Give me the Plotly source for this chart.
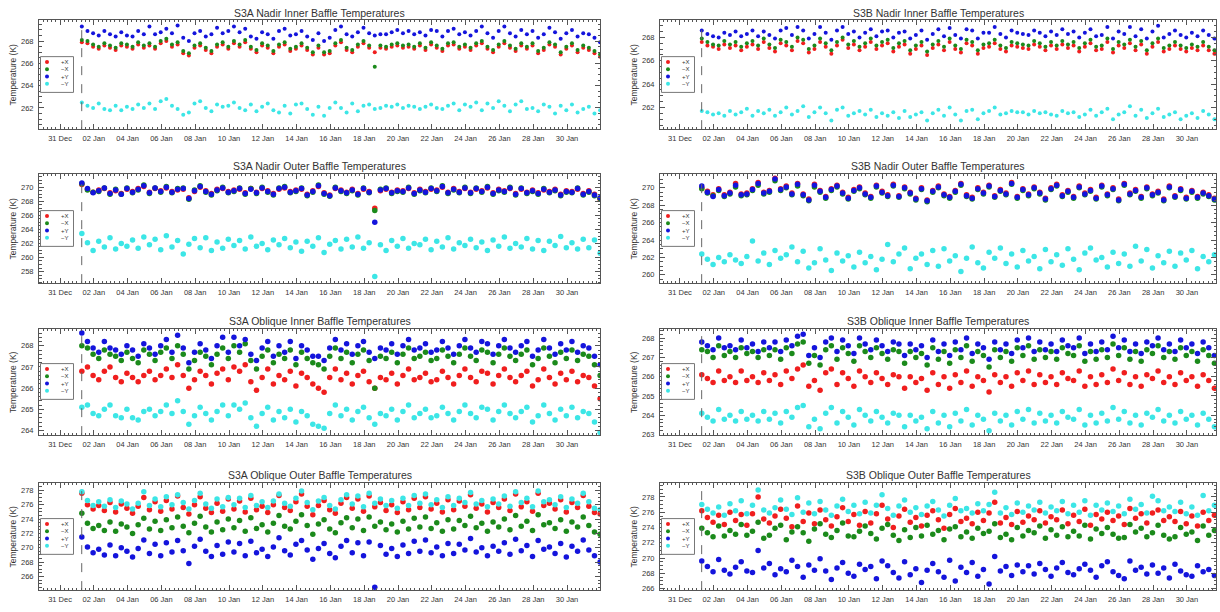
import pandas as pd
import plotly.graph_objects as go

# Sampling of the baffle thermistor series: one reading every 8 hours
T0 = pd.Timestamp("2019-01-01 07:00")
STEP = pd.Timedelta(hours=8)
SWITCH_ON = "2019-01-01 06:50"

# ---------------- S3A Nadir Inner Baffle ----------------
a1_px = [267.9, 267.8, 267.5, 267.3, 267.6, 267.4, 267.2, 267.6, 267.5, 267.3, 267.7, 267.4,
         267.6, 267.3, 267.8, 268.0, 267.5, 267.7, 266.9, 266.7, 267.4, 267.6, 267.2, 266.9,
         267.5, 267.7, 267.3, 267.8, 267.5, 267.9, 267.3, 267.0, 267.6, 267.4, 266.9, 267.5,
         267.7, 267.1, 267.3, 267.6, 267.2, 266.8, 267.4, 266.8, 266.9, 267.6, 267.9, 267.2,
         267.0, 267.5, 267.8, 267.4, 267.0, 267.4, 267.3, 267.5, 267.6, 267.4, 267.5, 267.3,
         267.6, 267.2, 267.7, 267.4, 267.1, 267.6, 267.7, 267.3, 267.5, 267.2, 267.6, 267.8,
         267.3, 267.0, 267.5, 267.8, 267.4, 267.1, 267.6, 267.3, 267.6, 266.9, 267.2, 267.7,
         267.5, 266.8, 267.3, 267.6, 267.0, 267.4, 267.2, 266.9, 266.6]
a1_mx = [268.1, 268.0, 267.7, 267.5, 267.8, 267.6, 267.4, 267.8, 267.7, 267.5, 267.9, 267.6,
         267.8, 267.5, 268.0, 268.2, 267.7, 267.9, 267.1, 266.9, 267.6, 267.8, 267.4, 267.1,
         267.7, 267.9, 267.5, 268.0, 267.7, 268.1, 267.5, 267.2, 267.8, 267.6, 267.1, 267.7,
         267.9, 267.3, 267.5, 267.8, 267.4, 267.0, 267.6, 267.0, 267.1, 267.8, 268.1, 267.4,
         267.2, 267.7, 268.0, 267.6, 265.7, 267.6, 267.5, 267.7, 267.8, 267.6, 267.7, 267.5,
         267.8, 267.4, 267.9, 267.6, 267.3, 267.8, 267.9, 267.5, 267.7, 267.4, 267.8, 268.0,
         267.5, 267.2, 267.7, 268.0, 267.6, 267.3, 267.8, 267.5, 267.8, 267.1, 267.4, 267.9,
         267.7, 267.0, 267.5, 267.8, 267.2, 267.6, 267.4, 267.1, 266.8]
a1_py = [269.3, 268.9, 268.7, 268.5, 268.9, 268.6, 268.4, 268.8, 268.5, 268.4, 268.9, 268.6,
         269.3, 268.6, 268.8, 269.1, 268.7, 269.4, 268.3, 268.0, 268.7, 268.9, 268.4, 268.6,
         269.2, 268.7, 268.9, 269.3, 268.8, 269.1, 268.4, 268.2, 268.8, 268.6, 268.2, 268.9,
         269.1, 268.5, 268.6, 268.9, 268.4, 268.1, 268.7, 268.0, 268.3, 269.0, 269.3, 268.6,
         268.4, 268.8, 269.2, 268.7, 268.5, 268.6, 268.6, 268.8, 269.0, 268.7, 268.9, 268.6,
         268.8, 268.5, 269.0, 268.9, 268.4, 268.9, 269.1, 268.6, 268.8, 268.5, 268.9, 269.3,
         268.7, 268.3, 268.9, 269.3, 268.7, 268.4, 269.0, 268.6, 268.9, 268.3, 268.6, 269.2,
         268.8, 268.2, 268.7, 269.0, 268.4, 268.7, 268.6, 268.3, 267.9]
a1_my = [262.5, 262.2, 262.0, 262.4, 261.9, 261.8, 262.2, 261.8, 262.1, 261.9, 262.3, 262.0,
         262.4, 261.9, 262.6, 262.8, 262.2, 261.9, 261.4, 261.6, 262.4, 262.6, 262.0, 261.7,
         262.3, 262.1, 262.2, 262.5, 262.0, 261.8, 262.3, 261.7, 262.1, 262.4, 261.8, 261.6,
         262.2, 261.5, 262.3, 262.4, 261.9, 261.4, 262.1, 261.3, 262.0, 262.5, 262.0, 261.6,
         262.4, 261.7, 262.2, 262.3, 261.9, 262.0, 262.2, 262.1, 262.3, 262.0, 262.2, 262.1,
         261.9, 262.1, 262.3, 262.0, 261.9, 262.2, 262.4, 261.8, 262.3, 262.1, 262.5, 261.8,
         262.4, 262.0, 262.6, 262.2, 261.7, 262.3, 262.6, 261.9, 262.0, 261.7, 262.3, 262.1,
         261.5, 262.2, 261.8, 262.3, 261.6, 261.9, 262.1, 261.5, 261.8]

# ---------------- S3B Nadir Inner Baffle ----------------
b1_px = [267.6, 267.3, 267.2, 267.0, 267.4, 267.1, 267.3, 266.9, 267.2, 267.4, 267.0, 267.6,
         267.1, 266.8, 267.5, 267.3, 266.9, 267.7, 267.5, 266.7, 267.0, 267.6, 267.2, 266.6,
         267.3, 267.8, 267.1, 267.4, 266.9, 267.2, 267.6, 267.0, 267.3, 267.5, 266.8, 267.2,
         267.4, 266.6, 267.0, 267.3, 266.5, 267.1, 267.4, 266.9, 267.6, 267.0, 266.7, 267.5,
         267.3, 266.6, 267.1, 267.2, 267.5, 267.0, 266.8, 267.3, 267.2, 267.1, 267.0, 267.4,
         267.2, 266.9, 267.3, 267.0, 267.4, 267.1, 267.3, 266.8, 267.2, 267.5, 266.9, 267.0,
         267.6, 266.7, 267.3, 267.1, 267.5, 266.9, 267.4, 266.6, 267.2, 267.6, 266.8, 267.0,
         267.3, 267.0, 266.8, 267.1, 266.9, 267.3, 266.9, 266.6, 266.4]
b1_mx = [267.9, 267.6, 267.4, 267.3, 267.7, 267.4, 267.6, 267.2, 267.5, 267.7, 267.3, 267.9,
         267.4, 267.1, 267.8, 267.6, 267.2, 268.0, 267.8, 267.0, 267.3, 267.9, 267.5, 266.9,
         267.6, 268.0, 267.4, 267.7, 267.2, 267.5, 267.9, 267.3, 267.6, 267.8, 267.1, 267.5,
         267.7, 266.9, 267.3, 267.6, 266.8, 267.4, 267.7, 267.2, 267.9, 267.3, 267.0, 267.8,
         267.6, 266.9, 267.4, 267.5, 267.8, 267.3, 267.1, 267.6, 267.5, 267.4, 267.3, 267.7,
         267.5, 267.2, 267.6, 267.3, 267.7, 267.4, 267.6, 267.1, 267.5, 267.8, 267.2, 267.3,
         267.9, 267.0, 267.6, 267.4, 267.8, 267.2, 267.7, 266.9, 267.5, 267.9, 267.1, 267.3,
         267.6, 267.3, 267.1, 267.4, 267.2, 267.6, 267.2, 266.9, 266.7]
b1_py = [268.6, 268.3, 268.1, 268.0, 268.4, 268.2, 268.5, 268.1, 268.3, 268.6, 268.1, 268.5,
         268.2, 267.9, 268.6, 268.8, 268.2, 268.9, 268.6, 267.9, 268.3, 268.9, 268.4, 267.8,
         268.6, 268.9, 268.3, 268.5, 268.0, 268.4, 268.7, 268.1, 268.5, 268.6, 268.0, 268.4,
         268.5, 267.9, 268.2, 268.6, 267.8, 268.3, 268.7, 268.1, 268.8, 268.2, 267.9, 268.7,
         268.6, 267.9, 268.4, 268.4, 268.9, 268.3, 268.0, 268.6, 268.4, 268.3, 268.2, 268.6,
         268.4, 268.1, 268.5, 268.2, 268.7, 268.3, 268.5, 268.0, 268.4, 268.7, 268.1, 268.2,
         268.9, 267.9, 268.5, 268.3, 268.9, 268.1, 268.7, 267.9, 268.5, 269.0, 268.0, 268.3,
         268.6, 268.2, 268.0, 268.4, 268.1, 268.6, 268.2, 267.9, 267.6]
b1_my = [261.7, 261.6, 261.4, 261.5, 261.3, 261.7, 261.4, 261.6, 261.9, 261.3, 261.7, 261.5,
         261.8, 261.3, 261.6, 262.0, 261.4, 261.7, 262.1, 261.2, 261.6, 262.0, 261.5, 260.9,
         261.8, 262.0, 261.3, 261.5, 261.7, 261.4, 261.8, 261.2, 261.5, 261.3, 261.6, 261.1,
         261.7, 261.2, 261.4, 261.6, 260.9, 261.5, 261.8, 261.3, 262.0, 261.4, 260.9, 261.7,
         261.8, 261.0, 261.5, 261.7, 262.0, 261.4, 261.5, 261.7, 261.6, 261.6, 261.4, 261.7,
         261.5, 261.6, 261.4, 261.3, 261.7, 261.5, 261.6, 261.2, 261.4, 261.8, 261.3, 261.6,
         261.9, 261.0, 261.4, 261.6, 262.1, 261.3, 261.8, 261.1, 261.5, 261.9, 261.2, 261.4,
         261.6, 261.0, 261.3, 261.5, 261.1, 261.7, 261.4, 261.0, 260.9]

# ---------------- S3A Nadir Outer Baffle ----------------
a2_px = [270.4, 269.7, 269.3, 269.6, 269.8, 269.2, 269.5, 269.1, 269.7, 269.4, 269.8, 270.1,
         269.3, 269.8, 269.5, 269.9, 269.4, 269.6, 269.7, 268.5, 269.4, 270.0, 269.5, 269.1,
         269.7, 269.8, 269.4, 269.6, 269.7, 269.2, 269.8, 269.3, 269.8, 269.5, 269.1, 269.7,
         269.9, 269.4, 269.6, 269.7, 269.0, 269.5, 270.1, 269.2, 268.9, 269.8, 269.6, 269.3,
         269.7, 269.1, 269.7, 269.4, 267.0, 269.5, 269.7, 269.3, 269.6, 269.5, 269.8, 269.2,
         269.7, 269.4, 269.7, 269.6, 270.0, 269.3, 269.8, 269.4, 269.8, 269.3, 269.7, 269.5,
         269.9, 269.2, 269.7, 269.5, 269.8, 269.1, 269.7, 269.3, 269.6, 269.2, 269.6, 269.4,
         269.7, 269.0, 269.5, 269.4, 269.7, 269.1, 269.5, 269.0, 268.3]
a2_mx = [270.5, 269.6, 269.3, 269.4, 269.9, 269.0, 269.7, 269.0, 269.9, 269.2, 269.6, 270.3,
         269.1, 269.9, 269.3, 270.1, 269.2, 269.8, 269.9, 268.3, 269.6, 270.2, 269.3, 268.9,
         269.5, 270.0, 269.2, 269.4, 269.9, 269.0, 269.8, 269.1, 270.0, 269.3, 268.9, 269.9,
         270.1, 269.2, 269.4, 269.9, 268.8, 269.3, 270.3, 269.0, 268.7, 270.0, 269.4, 269.1,
         269.5, 268.9, 269.9, 269.2, 266.7, 269.7, 269.9, 269.1, 269.4, 269.3, 270.0, 269.0,
         269.5, 269.2, 269.9, 269.4, 270.2, 269.1, 269.6, 269.2, 270.0, 269.1, 269.9, 269.3,
         270.1, 269.0, 269.5, 269.3, 270.0, 268.9, 269.9, 269.1, 269.4, 269.0, 269.8, 269.2,
         269.5, 268.8, 269.3, 269.2, 269.9, 268.9, 269.3, 268.8, 268.4]
a2_py = [270.6, 269.8, 269.2, 269.5, 269.9, 269.1, 269.6, 269.0, 269.8, 269.3, 269.7, 270.2,
         269.2, 269.9, 269.4, 270.0, 269.3, 269.7, 269.8, 268.4, 269.5, 270.1, 269.4, 269.0,
         269.6, 269.9, 269.3, 269.5, 269.8, 269.1, 269.7, 269.2, 269.9, 269.4, 269.0, 269.8,
         270.0, 269.3, 269.5, 269.8, 268.9, 269.4, 270.2, 269.1, 268.8, 269.9, 269.5, 269.2,
         269.6, 269.0, 269.8, 269.3, 265.0, 269.6, 269.8, 269.2, 269.5, 269.4, 269.9, 269.1,
         269.6, 269.3, 269.8, 269.5, 270.1, 269.2, 269.7, 269.3, 269.9, 269.2, 269.8, 269.4,
         270.0, 269.1, 269.6, 269.4, 269.9, 269.0, 269.8, 269.2, 269.5, 269.1, 269.7, 269.3,
         269.6, 268.9, 269.4, 269.3, 269.8, 269.0, 269.4, 268.9, 268.5]
a2_my = [263.4, 262.1, 261.0, 262.3, 261.5, 262.8, 261.2, 262.0, 261.6, 262.5, 261.3, 262.9,
         261.8, 262.6, 261.1, 263.1, 261.5, 262.4, 260.5, 261.9, 262.7, 261.4, 262.8, 261.0,
         262.2, 261.3, 262.6, 261.7, 262.4, 261.2, 262.9, 261.6, 262.0, 261.1, 262.5, 261.8,
         262.7, 261.4, 262.2, 260.9, 262.3, 261.6, 262.8, 260.7, 261.9, 262.4, 261.2, 262.6,
         261.5, 262.9, 261.3, 262.1, 257.3, 261.8, 261.0, 262.4, 261.6, 262.7, 261.3, 262.0,
         261.8, 262.6, 261.1, 262.3, 261.5, 262.8, 261.2, 262.1, 261.7, 262.6, 261.4, 262.2,
         261.0, 262.5, 261.6, 262.9, 261.3, 262.0, 261.5, 262.7, 261.2, 262.4, 261.0, 262.3,
         261.7, 263.0, 261.4, 262.1, 261.2, 262.6, 261.4, 262.5, 260.6]

# ---------------- S3B Nadir Outer Baffle ----------------
b2_px = [270.0, 269.6, 269.2, 269.9, 269.2, 269.5, 270.5, 269.3, 269.4, 269.9, 270.6, 269.5,
         269.7, 271.1, 269.9, 270.2, 269.4, 270.5, 269.3, 268.7, 270.4, 269.7, 269.0, 269.9,
         270.3, 269.5, 268.9, 269.8, 270.1, 269.4, 269.0, 270.3, 269.6, 269.2, 270.4, 269.1,
         270.1, 269.5, 268.8, 270.0, 268.6, 269.7, 270.2, 269.3, 269.0, 269.7, 270.5, 269.2,
         268.9, 270.0, 269.5, 270.3, 269.1, 269.8, 269.4, 270.6, 269.0, 269.9, 269.3, 270.1,
         269.5, 268.8, 270.0, 270.4, 269.2, 269.7, 269.0, 270.2, 269.4, 269.8, 268.9, 270.3,
         269.3, 270.0, 268.7, 270.5, 269.4, 269.8, 269.0, 270.1, 269.3, 269.6, 268.7, 270.2,
         269.1, 269.9, 268.9, 269.7, 269.0, 269.5, 269.2, 268.8, 268.2]
b2_mx = [269.9, 269.4, 269.1, 269.7, 269.0, 269.3, 270.1, 269.1, 269.2, 269.7, 270.3, 269.3,
         269.5, 270.8, 269.7, 270.0, 269.2, 270.2, 269.1, 268.5, 270.1, 269.5, 268.8, 269.7,
         270.1, 269.3, 268.7, 269.6, 269.9, 269.2, 268.8, 270.1, 269.4, 269.0, 270.2, 268.9,
         269.9, 269.3, 268.6, 269.8, 268.4, 269.5, 270.0, 269.1, 268.8, 269.5, 270.3, 269.0,
         268.7, 269.8, 269.3, 270.1, 268.9, 269.6, 269.2, 270.4, 268.8, 269.7, 269.1, 269.9,
         269.3, 268.6, 269.8, 270.2, 269.0, 269.5, 268.8, 270.0, 269.2, 269.6, 268.7, 270.1,
         269.1, 269.8, 268.5, 270.3, 269.2, 269.6, 268.8, 269.9, 269.1, 269.4, 268.5, 270.0,
         268.9, 269.7, 268.7, 269.5, 268.8, 269.3, 269.0, 268.6, 268.0]
b2_py = [270.2, 269.5, 269.0, 269.8, 269.1, 269.4, 270.3, 269.2, 269.3, 269.8, 270.5, 269.4,
         269.6, 271.0, 269.8, 270.1, 269.3, 270.4, 269.2, 268.6, 270.3, 269.6, 268.9, 269.8,
         270.2, 269.4, 268.8, 269.7, 270.0, 269.3, 268.9, 270.2, 269.5, 269.1, 270.3, 269.0,
         270.0, 269.4, 268.7, 269.9, 268.5, 269.6, 270.1, 269.2, 268.9, 269.6, 270.4, 269.1,
         268.8, 269.9, 269.4, 270.2, 269.0, 269.7, 269.3, 270.5, 268.9, 269.8, 269.2, 270.0,
         269.4, 268.7, 269.9, 270.3, 269.1, 269.6, 268.9, 270.1, 269.3, 269.7, 268.8, 270.2,
         269.2, 269.9, 268.6, 270.4, 269.3, 269.7, 268.9, 270.0, 269.2, 269.5, 268.6, 270.1,
         269.0, 269.8, 268.8, 269.6, 268.9, 269.4, 269.1, 268.7, 268.1]
b2_my = [262.4, 261.8, 261.2, 262.0, 261.5, 262.3, 261.7, 261.3, 262.1, 263.9, 261.6, 262.5,
         261.2, 262.8, 261.9, 262.3, 263.2, 261.5, 262.7, 260.8, 261.4, 263.0, 261.7, 260.5,
         262.5, 261.6, 262.2, 260.9, 262.6, 261.4, 262.1, 260.6, 261.8, 263.5, 261.5, 262.4,
         263.1, 260.7, 261.9, 262.4, 261.2, 262.8, 261.0, 263.0, 261.6, 262.2, 260.4, 261.9,
         263.2, 261.4, 260.8, 262.6, 261.9, 263.1, 261.3, 262.4, 260.9, 262.8, 261.6, 262.1,
         260.7, 262.9, 261.5, 262.3, 261.1, 263.0, 261.8, 260.6, 262.5, 263.1, 261.7, 262.0,
         260.9, 262.6, 261.3, 262.4, 261.0, 263.3, 261.6, 262.9, 260.8, 262.2, 261.4, 262.7,
         261.0, 262.5, 261.7, 262.8, 260.7, 262.1, 261.5, 262.3, 260.2]

# ---------------- S3A Oblique Inner Baffle ----------------
a3_px = [266.8, 267.0, 266.6, 266.4, 266.8, 267.0, 266.5, 266.3, 266.7, 266.5, 266.3, 266.6,
         266.8, 266.4, 266.6, 266.9, 266.5, 267.1, 266.6, 266.0, 266.4, 266.8, 266.6, 266.2,
         266.7, 266.9, 266.4, 267.0, 266.8, 267.1, 266.3, 265.9, 266.5, 266.9, 266.2, 266.6,
         266.4, 266.8, 266.1, 266.7, 266.5, 266.2, 266.0, 265.8, 266.5, 266.9, 266.4, 266.7,
         266.2, 266.6, 266.8, 266.3, 266.0, 266.5, 266.4, 266.7, 266.2, 266.6, 266.9, 266.4,
         266.5, 266.7, 266.3, 266.4, 266.8, 266.5, 266.2, 266.6, 266.9, 266.5, 266.3, 266.8,
         266.7, 266.2, 266.6, 266.9, 266.5, 266.3, 266.6, 266.8, 266.1, 266.4, 266.9, 266.5,
         266.2, 266.7, 266.4, 266.8, 266.3, 266.6, 266.5, 266.1, 265.5]
a3_mx = [268.0, 267.9, 267.6, 267.4, 267.8, 267.6, 267.5, 267.3, 267.7, 267.4, 267.2, 267.8,
         267.6, 267.3, 267.7, 267.9, 267.4, 268.0, 267.6, 266.9, 267.3, 267.7, 267.5, 267.1,
         267.6, 267.9, 267.4, 268.0, 267.7, 268.1, 267.3, 266.9, 267.5, 267.8, 267.2, 267.6,
         267.4, 267.8, 267.1, 267.7, 267.4, 267.2, 267.1, 266.9, 267.5, 267.9, 267.4, 267.7,
         267.2, 267.6, 267.8, 267.3, 266.0, 267.5, 267.4, 267.7, 267.2, 267.6, 267.9, 267.4,
         267.5, 267.7, 267.3, 267.4, 267.8, 267.5, 267.2, 267.6, 267.9, 267.5, 267.3, 267.8,
         267.7, 267.2, 267.6, 267.9, 267.5, 267.3, 267.6, 267.8, 267.1, 267.4, 267.9, 267.5,
         267.2, 267.7, 267.4, 267.8, 267.3, 267.6, 267.5, 267.1, 266.6]
a3_py = [268.6, 268.2, 267.9, 267.7, 268.2, 267.9, 267.8, 267.6, 268.0, 267.8, 267.5, 268.1,
         267.9, 267.6, 268.0, 268.3, 267.7, 268.5, 267.9, 267.2, 267.7, 268.1, 267.8, 267.4,
         268.0, 268.4, 267.7, 268.4, 268.0, 268.3, 267.6, 267.3, 267.9, 268.2, 267.5, 268.0,
         267.7, 268.2, 267.4, 268.0, 267.8, 267.5, 267.5, 267.3, 267.9, 268.3, 267.8, 268.1,
         267.6, 268.0, 268.2, 267.7, 267.4, 267.9, 267.8, 268.1, 267.6, 268.0, 268.3, 267.8,
         267.9, 268.1, 267.7, 267.8, 268.2, 267.9, 267.6, 268.0, 268.3, 267.9, 267.7, 268.2,
         268.1, 267.6, 268.0, 268.3, 267.9, 267.7, 268.0, 268.2, 267.5, 267.8, 268.3, 267.9,
         267.6, 268.1, 267.8, 268.2, 267.7, 268.0, 267.9, 267.5, 267.1]
a3_my = [265.1, 265.2, 264.8, 264.7, 265.0, 265.2, 264.7, 264.6, 265.0, 264.6, 264.5, 264.9,
         265.0, 264.7, 264.9, 265.2, 264.8, 265.4, 264.9, 264.3, 264.7, 265.1, 264.8, 264.5,
         264.9, 265.2, 264.7, 265.2, 265.0, 265.3, 264.6, 264.2, 264.8, 265.1, 264.5, 264.9,
         264.6, 265.0, 264.4, 264.9, 264.7, 264.3, 264.2, 264.1, 264.8, 265.2, 264.7, 265.0,
         264.5, 264.9, 265.1, 264.6, 264.3, 264.8, 264.7, 265.0, 264.5, 264.9, 265.2, 264.6,
         264.8, 265.0, 264.6, 264.7, 265.1, 264.8, 264.5, 264.9, 265.2, 264.8, 264.6, 265.1,
         265.0, 264.5, 264.9, 265.2, 264.8, 264.6, 264.9, 265.1, 264.4, 264.7, 265.2, 264.8,
         264.5, 265.0, 264.7, 265.1, 264.6, 264.9, 264.8, 264.4, 263.9]

# ---------------- S3B Oblique Inner Baffle ----------------
b3_px = [266.1, 265.9, 265.7, 266.3, 265.8, 266.0, 265.7, 266.3, 265.8, 266.0, 265.7, 266.2,
         265.8, 266.1, 265.6, 266.3, 265.9, 266.4, 266.6, 265.5, 265.8, 265.3, 266.2, 266.4,
         265.6, 266.2, 265.9, 265.5, 266.3, 266.0, 265.7, 266.2, 265.9, 265.6, 266.1, 266.0,
         265.4, 266.0, 265.7, 265.9, 265.3, 266.2, 265.6, 266.0, 265.4, 266.1, 265.7, 266.3,
         265.5, 266.0, 265.8, 265.2, 266.1, 265.7, 266.0, 265.5, 266.2, 265.8, 266.3, 265.6,
         266.1, 265.7, 266.0, 265.6, 266.2, 265.9, 265.8, 266.3, 265.5, 266.0, 265.6, 266.1,
         265.7, 266.4, 265.8, 266.2, 265.6, 266.0, 265.5, 266.1, 265.9, 266.3, 265.7, 266.0,
         265.6, 266.2, 265.8, 266.0, 265.5, 266.1, 265.8, 265.4, 265.3]
b3_mx = [267.4, 267.3, 267.0, 267.6, 267.1, 267.3, 267.0, 267.5, 267.2, 267.3, 267.0, 267.4,
         267.1, 267.4, 266.9, 267.5, 267.2, 267.7, 267.8, 266.7, 267.1, 266.6, 267.4, 267.6,
         266.9, 267.5, 267.2, 266.8, 267.6, 267.3, 267.0, 267.5, 267.2, 266.9, 267.4, 267.3,
         266.7, 267.3, 267.0, 267.2, 266.6, 267.5, 266.9, 267.3, 266.7, 267.4, 267.0, 267.6,
         266.8, 267.3, 267.1, 266.5, 267.4, 267.0, 267.3, 266.8, 267.5, 267.1, 267.6, 266.9,
         267.4, 267.0, 267.3, 266.9, 267.5, 267.2, 267.1, 267.6, 266.8, 267.3, 266.9, 267.4,
         267.0, 267.7, 267.1, 267.5, 266.9, 267.3, 266.8, 267.4, 267.2, 267.6, 267.0, 267.3,
         266.9, 267.5, 267.1, 267.3, 266.8, 267.4, 267.1, 266.7, 266.5]
b3_py = [267.8, 267.6, 267.4, 268.0, 267.5, 267.6, 267.4, 267.9, 267.5, 267.7, 267.3, 267.8,
         267.5, 267.8, 267.3, 267.9, 267.6, 268.1, 268.2, 267.1, 267.5, 267.0, 267.8, 268.0,
         267.3, 267.9, 267.6, 267.2, 268.0, 267.7, 267.4, 267.9, 267.6, 267.3, 267.8, 267.7,
         267.1, 267.7, 267.4, 267.6, 267.0, 267.9, 267.3, 267.7, 267.1, 267.8, 267.4, 268.0,
         267.2, 267.7, 267.5, 266.9, 267.8, 267.4, 267.7, 267.2, 267.9, 267.5, 268.0, 267.3,
         267.8, 267.4, 267.7, 267.3, 267.9, 267.6, 267.5, 268.0, 267.2, 267.7, 267.3, 267.8,
         267.4, 268.1, 267.5, 267.9, 267.3, 267.7, 267.2, 267.8, 267.6, 268.0, 267.4, 267.7,
         267.3, 267.9, 267.5, 267.7, 267.2, 267.8, 267.5, 267.1, 266.9]
b3_my = [264.1, 263.9, 263.7, 264.3, 263.8, 264.0, 263.7, 264.2, 263.8, 264.0, 263.7, 264.2,
         263.8, 264.1, 263.6, 264.2, 263.9, 264.4, 264.5, 263.4, 263.8, 263.3, 264.1, 264.4,
         263.6, 264.2, 263.9, 263.5, 264.3, 264.0, 263.7, 264.2, 263.9, 263.6, 264.1, 264.0,
         263.4, 264.0, 263.7, 263.9, 263.3, 264.2, 263.6, 264.0, 263.4, 264.1, 263.7, 264.3,
         263.5, 264.0, 263.8, 263.2, 264.1, 263.7, 264.0, 263.5, 264.2, 263.8, 264.3, 263.6,
         264.1, 263.7, 264.0, 263.6, 264.2, 263.9, 263.8, 264.3, 263.5, 264.0, 263.6, 264.1,
         263.7, 264.4, 263.8, 264.2, 263.6, 264.0, 263.5, 264.1, 263.9, 264.3, 263.7, 264.0,
         263.6, 264.2, 263.8, 264.0, 263.5, 264.1, 263.8, 263.4, 263.3]

# ---------------- S3A Oblique Outer Baffle ----------------
a4_px = [277.6, 276.0, 275.4, 275.9, 275.2, 276.3, 275.0, 276.1, 275.5, 274.8, 275.8, 277.0,
         275.3, 276.4, 275.1, 276.6, 275.4, 277.2, 275.6, 274.7, 276.0, 277.1, 275.5, 274.9,
         276.2, 275.1, 276.8, 275.4, 276.5, 275.0, 276.9, 275.3, 275.8, 274.9, 276.0, 277.3,
         275.6, 275.2, 276.4, 277.5, 275.8, 274.6, 275.9, 276.6, 275.3, 274.8, 276.2, 277.0,
         275.5, 276.8, 275.1, 277.2, 275.7, 276.3, 275.2, 276.0, 274.9, 276.4, 275.3, 276.9,
         275.6, 277.1, 275.4, 276.2, 275.0, 276.7, 275.3, 276.5, 275.8, 277.4, 275.5, 276.1,
         275.0, 276.3, 275.6, 276.8, 275.2, 277.5, 275.7, 276.4, 275.1, 277.6, 275.9, 276.2,
         275.4, 276.7, 275.0, 276.3, 275.6, 277.3, 275.8, 274.9, 274.7]
a4_mx = [274.8, 273.4, 272.7, 273.1, 272.4, 273.6, 272.3, 273.3, 272.9, 272.0, 273.2, 274.1,
         272.6, 273.7, 272.4, 273.9, 272.8, 274.3, 273.0, 272.1, 273.4, 274.4, 272.9, 272.2,
         273.6, 272.5, 274.0, 272.8, 273.8, 272.3, 274.2, 272.7, 273.2, 272.2, 273.4, 274.5,
         273.0, 272.6, 273.7, 274.6, 273.1, 271.9, 273.3, 273.9, 272.6, 272.1, 273.5, 274.2,
         272.8, 274.0, 272.4, 274.3, 273.0, 273.6, 272.5, 273.3, 272.2, 273.7, 272.6, 274.1,
         272.9, 274.3, 272.7, 273.5, 272.3, 273.9, 272.6, 273.8, 273.1, 274.4, 272.8, 273.4,
         272.3, 273.6, 272.9, 274.0, 272.5, 274.5, 273.0, 273.7, 272.4, 274.6, 273.2, 273.5,
         272.7, 273.9, 272.3, 273.6, 272.9, 274.3, 273.1, 272.2, 271.9]
a4_py = [271.5, 270.1, 269.3, 269.8, 269.0, 270.4, 268.9, 270.0, 269.5, 268.7, 269.9, 271.1,
         269.2, 270.5, 268.9, 270.7, 269.4, 271.0, 269.6, 267.8, 270.2, 271.2, 269.5, 268.8,
         270.3, 269.1, 270.8, 269.4, 270.6, 268.9, 270.9, 269.3, 269.8, 268.8, 270.1, 271.4,
         269.6, 269.0, 270.5, 271.0, 269.7, 268.4, 269.9, 270.6, 269.2, 268.6, 270.2, 271.0,
         269.3, 270.7, 268.9, 270.8, 264.5, 270.3, 269.1, 269.9, 268.8, 270.4, 269.2, 270.9,
         269.5, 271.1, 269.3, 270.1, 268.9, 270.6, 269.2, 270.5, 269.7, 271.3, 269.4, 270.0,
         268.9, 270.2, 269.5, 270.7, 269.1, 271.2, 269.6, 270.3, 268.8, 271.0, 269.8, 270.1,
         269.2, 270.6, 268.7, 270.2, 269.5, 271.1, 269.7, 268.9, 268.0]
a4_my = [277.8, 276.6, 275.9, 276.4, 275.8, 276.7, 275.6, 276.5, 276.1, 275.4, 276.2, 277.8,
         275.9, 276.8, 275.7, 277.1, 276.0, 277.4, 276.3, 275.4, 276.6, 277.6, 276.1, 275.5,
         276.8, 275.7, 277.0, 276.0, 276.9, 275.6, 277.3, 275.9, 276.4, 275.6, 276.5, 277.5,
         276.2, 275.8, 276.9, 277.9, 276.3, 275.3, 276.5, 277.0, 275.9, 275.4, 276.7, 277.4,
         276.1, 277.2, 275.7, 277.6, 276.2, 276.8, 275.9, 276.6, 275.5, 276.9, 275.9, 277.3,
         276.2, 277.5, 276.0, 276.7, 275.6, 277.1, 275.9, 276.9, 276.3, 277.7, 276.1, 276.6,
         275.7, 276.8, 276.1, 277.2, 275.8, 277.8, 276.3, 276.9, 275.7, 277.9, 276.4, 276.7,
         276.0, 277.1, 275.6, 276.8, 276.2, 277.6, 276.4, 275.5, 275.3]

# ---------------- S3B Oblique Outer Baffle ----------------
b4_px = [276.2, 275.3, 274.7, 275.6, 274.4, 276.0, 274.9, 275.7, 274.3, 275.8, 278.0, 275.1,
         274.6, 275.5, 276.4, 275.2, 274.1, 276.8, 274.8, 275.9, 274.5, 276.3, 275.0, 274.2,
         275.4, 276.6, 274.8, 275.7, 274.3, 276.1, 274.6, 275.8, 276.9, 275.1, 274.0, 275.5,
         276.4, 274.7, 275.3, 274.2, 275.6, 276.2, 275.0, 273.9, 275.7, 276.5, 274.8, 275.2,
         274.5, 276.0, 274.9, 275.9, 277.3, 274.6, 275.3, 274.4, 276.1, 274.7, 275.5, 275.0,
         276.2, 274.6, 275.4, 275.0, 276.3, 274.5, 275.6, 274.8, 276.4, 274.3, 275.7, 275.1,
         276.0, 274.9, 275.5, 274.4, 276.5, 275.2, 275.8, 274.6, 275.9, 276.3, 274.9, 275.4,
         274.8, 276.1, 274.5, 275.5, 274.2, 276.0, 274.9, 275.6, 273.8]
b4_mx = [273.9, 273.3, 272.8, 274.2, 272.9, 273.6, 273.1, 274.4, 273.0, 273.5, 274.7, 272.6,
         273.0, 273.9, 274.3, 272.4, 273.4, 274.1, 273.3, 272.2, 273.8, 274.5, 273.1, 272.7,
         273.6, 274.6, 272.9, 272.8, 273.5, 274.2, 273.2, 272.5, 273.9, 274.4, 273.0, 272.3,
         273.7, 272.7, 274.0, 272.9, 274.3, 273.1, 273.6, 272.4, 273.8, 274.1, 272.8, 273.4,
         272.6, 273.9, 273.2, 273.5, 274.5, 272.7, 273.1, 272.4, 274.0, 272.9, 273.6, 273.3,
         274.2, 272.6, 273.7, 273.0, 274.1, 272.8, 273.5, 272.9, 274.3, 272.5, 273.8, 273.2,
         274.0, 273.1, 272.6, 272.7, 274.4, 273.4, 273.9, 272.8, 273.3, 274.3, 273.0, 272.5,
         272.8, 274.0, 273.1, 273.4, 272.3, 274.2, 273.0, 273.6, 272.1]
b4_py = [269.6, 268.9, 268.2, 269.8, 268.4, 267.9, 268.8, 269.5, 268.3, 268.1, 271.0, 268.7,
         269.3, 267.8, 268.6, 268.2, 269.7, 268.9, 267.5, 269.1, 268.4, 269.9, 268.3, 267.2,
         268.7, 269.4, 268.0, 267.6, 269.2, 268.5, 268.9, 267.3, 269.6, 269.0, 268.1, 267.4,
         269.5, 267.8, 268.6, 266.8, 268.4, 269.3, 268.2, 267.5, 269.7, 267.0, 268.8, 268.1,
         269.4, 267.6, 268.5, 266.6, 270.2, 268.3, 268.9, 267.7, 269.1, 268.2, 269.0, 267.9,
         269.3, 268.5, 267.6, 268.7, 269.4, 268.1, 267.8, 268.6, 269.2, 268.4, 267.5, 269.0,
         269.5, 268.2, 267.7, 267.3, 269.6, 268.4, 268.8, 267.9, 269.1, 268.0, 268.7, 267.4,
         269.2, 268.3, 267.8, 267.6, 269.0, 268.2, 268.5, 267.7, 266.5]
b4_my = [277.0, 276.4, 275.9, 276.7, 275.6, 277.1, 276.2, 277.5, 275.8, 276.9, 278.9, 276.3,
         275.9, 276.6, 277.6, 276.4, 275.7, 277.9, 276.0, 277.2, 275.8, 277.4, 276.3, 275.6,
         276.8, 277.7, 276.1, 276.9, 275.8, 277.3, 275.9, 276.9, 278.3, 276.5, 275.6, 276.8,
         277.6, 276.0, 276.6, 275.7, 276.8, 277.4, 276.3, 275.5, 276.9, 277.8, 276.2, 276.5,
         275.9, 277.1, 276.2, 277.0, 278.6, 275.9, 276.6, 275.7, 277.2, 276.0, 276.8, 276.3,
         277.3, 275.9, 276.7, 276.2, 277.4, 275.8, 276.9, 276.0, 277.5, 275.6, 276.9, 276.3,
         277.2, 276.1, 276.8, 275.8, 277.7, 276.4, 277.0, 275.9, 278.1, 277.5, 276.2, 276.7,
         276.1, 277.3, 275.8, 276.7, 275.6, 278.2, 276.2, 276.9, 275.5]

SENSORS = ["+X", "\u2212X", "+Y", "\u2212Y"]
COLORS = ["#f01e1e", "#1b8a1b", "#1414dc", "#3ce6e6"]

# (title, [+X, -X, +Y, -Y], y range, major dtick, minor dtick, marker size)
PANELS = [
    ("S3A Nadir Inner Baffle Temperatures", [a1_px, a1_mx, a1_py, a1_my], (260.1, 269.9), 2, 0.5, 4),
    ("S3B Nadir Inner Baffle Temperatures", [b1_px, b1_mx, b1_py, b1_my], (260.15, 269.5), 2, 0.5, 4),
    ("S3A Nadir Outer Baffle Temperatures", [a2_px, a2_mx, a2_py, a2_my], (256.35, 271.9), 2, 0.5, 5.5),
    ("S3B Nadir Outer Baffle Temperatures", [b2_px, b2_mx, b2_py, b2_my], (259.05, 271.6), 2, 0.5, 5.5),
    ("S3A Oblique Inner Baffle Temperatures", [a3_px, a3_mx, a3_py, a3_my], (263.78, 268.8), 1, 0.2, 5.5),
    ("S3B Oblique Inner Baffle Temperatures", [b3_px, b3_mx, b3_py, b3_my], (262.97, 268.48), 1, 0.2, 5.5),
    ("S3A Oblique Outer Baffle Temperatures", [a4_px, a4_mx, a4_py, a4_my], (264.1, 279.05), 2, 0.5, 5.5),
    ("S3B Oblique Outer Baffle Temperatures", [b4_px, b4_mx, b4_py, b4_my], (265.8, 279.85), 2, 0.5, 5.5),
]

# Page geometry (pixels)
W, H = 1220, 612
COL_PX = [(39, 600), (660, 1216)]
ROW_PX = [(20, 130), (175, 285), (331, 438), (486, 594)]
TITLE_Y = [13, 167, 323, 478]
LEGEND_TOP = [37, 37, 35, 36]
X_RANGES = [["2018-12-29 18:10", "2019-01-31 22:50"], ["2018-12-29 19:40", "2019-01-31 17:15"]]

FONT = "Liberation Sans, Arial, sans-serif"
INK = "#333333"
FRAME = "#555555"


def px_x(v):
    return v / W


def px_y(v):
    return 1 - v / H


fig = go.Figure()
layout = dict(
    width=W, height=H, margin=dict(l=0, r=0, t=0, b=0),
    paper_bgcolor="white", plot_bgcolor="white", showlegend=False,
    font=dict(family=FONT, size=8, color=INK),
)
annotations, shapes = [], []

for k, (title, series, yrange, dtick, mdtick, msize) in enumerate(PANELS):
    row, col = divmod(k, 2)
    n = k + 1
    xa, ya = ("x", "y") if n == 1 else (f"x{n}", f"y{n}")
    left, right = COL_PX[col]
    top, bottom = ROW_PX[row]

    for name, vals, color in zip(SENSORS, series, COLORS):
        times = [T0 + STEP * i for i in range(len(vals))]
        fig.add_trace(go.Scatter(
            x=times, y=vals, mode="markers", name=name, xaxis=xa, yaxis=ya,
            marker=dict(color=color, size=msize, line=dict(width=0)),
        ))

    common = dict(showline=True, linecolor=FRAME, linewidth=1, mirror="allticks",
                  ticks="inside", tickcolor=FRAME, showgrid=False, zeroline=False,
                  tickfont=dict(family=FONT, size=7.5, color=INK))
    layout["xaxis" if n == 1 else f"xaxis{n}"] = dict(
        common, type="date", domain=[px_x(left), px_x(right)], anchor=ya,
        range=X_RANGES[col], tick0="2018-12-31", dtick=2 * 86400000,
        tickformat="%d %b", ticklen=5, ticklabelstandoff=2,
        minor=dict(ticks="inside", dtick=6 * 3600000, ticklen=2.5, tickcolor=FRAME),
    )
    layout["yaxis" if n == 1 else f"yaxis{n}"] = dict(
        common, domain=[px_y(bottom), px_y(top)], anchor=xa,
        range=list(yrange), dtick=dtick, tick0=0, ticklen=5, ticklabelstandoff=3,
        minor=dict(ticks="inside", dtick=mdtick, ticklen=2.5, tickcolor=FRAME),
    )

    # panel title and y-axis label
    annotations.append(dict(text=title, xref="paper", yref="paper",
                            x=px_x((left + right) / 2), y=px_y(TITLE_Y[row]),
                            xanchor="center", yanchor="middle",
                            showarrow=False, font=dict(size=10.5, color=INK)))
    annotations.append(dict(text="Temperature (K)", xref="paper", yref="paper",
                            x=px_x(left - 26), y=px_y((top + bottom) / 2), textangle=-90,
                            xanchor="center", yanchor="middle",
                            showarrow=False, font=dict(size=8.5, color=INK)))

    # dashed marker of the start of the record
    shapes.append(dict(type="line", xref=xa, yref=f"{ya} domain",
                       x0=SWITCH_ON, x1=SWITCH_ON, y0=0, y1=1,
                       line=dict(color="#666666", width=1, dash="dash")))

    # small boxed key at the left of each panel
    bx0 = left + 1.5
    by0 = top + LEGEND_TOP[row]
    shapes.append(dict(type="rect", xref="paper", yref="paper",
                       x0=px_x(bx0), x1=px_x(bx0 + 33), y0=px_y(by0 + 36), y1=px_y(by0),
                       line=dict(color="#777777", width=1), fillcolor="white"))
    for i, (name, color) in enumerate(zip(SENSORS, COLORS)):
        cy = by0 + 5.5 + 7.3 * i
        cx = bx0 + 6.5
        shapes.append(dict(type="circle", xref="paper", yref="paper",
                           x0=px_x(cx - 2), x1=px_x(cx + 2), y0=px_y(cy + 2), y1=px_y(cy - 2),
                           fillcolor=color, line=dict(width=0)))
        annotations.append(dict(text=name, xref="paper", yref="paper",
                                x=px_x(bx0 + 18), y=px_y(cy), xanchor="left", yanchor="middle",
                                showarrow=False, font=dict(size=6, color=INK)))

layout["annotations"] = annotations
layout["shapes"] = shapes
fig.update_layout(**layout)
fig.write_html("out.html")
